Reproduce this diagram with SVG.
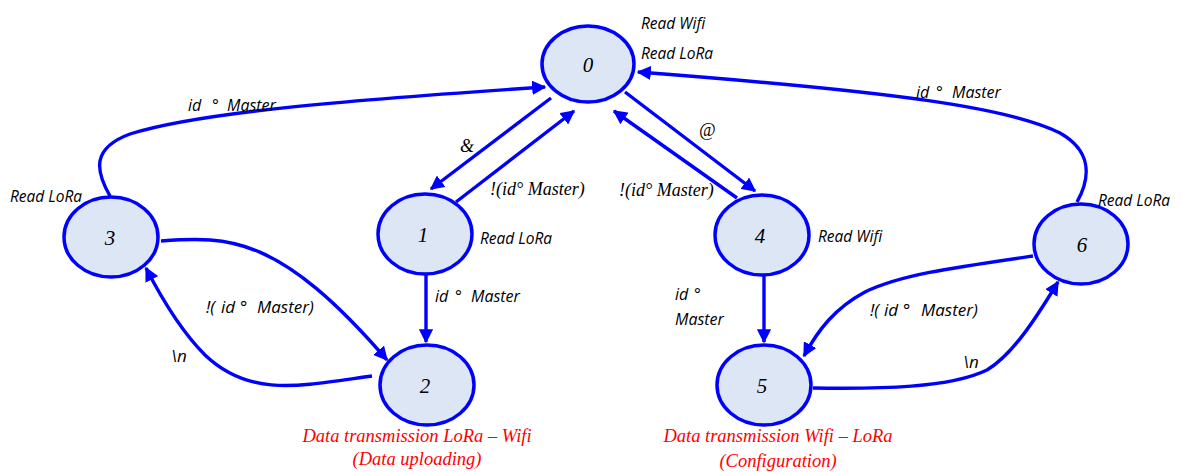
<svg xmlns="http://www.w3.org/2000/svg" width="1182" height="472" viewBox="0 0 1182 472">
<defs>
<marker id="ah" viewBox="0 0 10 10" refX="9" refY="5" markerWidth="4.2" markerHeight="4.2" markerUnits="strokeWidth" orient="auto">
<path d="M0,0 L10,5 L0,10 z" fill="#0000FF"/>
</marker>
<style>
.n{fill:#DCE6F5;stroke:#0000FF;stroke-width:3.5}
.e{fill:none;stroke:#0000FF;stroke-width:3.4;marker-end:url(#ah)}
.num{font-family:"Liberation Serif",serif;font-style:italic;font-size:21px;fill:#000;text-anchor:middle}
.s{font-family:"Open Sans","Liberation Sans",sans-serif;font-style:italic;font-size:15.5px;fill:#000}
.m{font-family:"Open Sans","Liberation Sans",sans-serif;font-style:italic;font-size:16px;fill:#000}
.b{font-family:"Open Sans","Liberation Sans",sans-serif;font-style:italic;font-size:17px;fill:#000}
.t{font-family:"Liberation Serif",serif;font-style:italic;font-size:18px;fill:#000}
.r{font-family:"Liberation Serif",serif;font-style:italic;font-size:18.5px;fill:#FF0000;text-anchor:middle}
</style>
</defs>
<rect width="1182" height="472" fill="#fff"/>
<g id="connectors">
<path class="e" d="M551,98 L431,189"/>
<path class="e" d="M456,202 L574,111"/>
<path class="e" d="M625,92 L755,191"/>
<path class="e" d="M737,198 L614,111"/>
<path class="e" d="M426,275 L426,342"/>
<path class="e" d="M764,276 L764,342"/>
<path class="e" d="M110,196 C95,170 92,148 130,134 C200,112 350,100 545,87"/>
<path class="e" d="M1077,202 C1092,175 1090,150 1060,133 C1010,108 900,92 638,72"/>
<path class="e" d="M161,241 C230,236 280,236 387,360"/>
<path class="e" d="M372,376 C300,386 250,398 205,355 C185,335 165,305 146,268"/>
<path class="e" d="M1033,256 C950,268 900,275 865,292 C835,308 818,330 804,356"/>
<path class="e" d="M813,388 C880,389 950,388 987,370 C1012,355 1035,320 1058,282"/>
</g>
<g id="node0"><ellipse class="n" cx="588" cy="64" rx="46" ry="38"/><text class="num" x="588" y="72">0</text></g>
<g id="node1"><ellipse class="n" cx="425" cy="234" rx="47" ry="40"/><text class="num" x="423" y="242">1</text></g>
<g id="node2"><ellipse class="n" cx="427" cy="385" rx="47" ry="40"/><text class="num" x="425" y="393">2</text></g>
<g id="node3"><ellipse class="n" cx="111" cy="237" rx="47" ry="40"/><text class="num" x="110" y="245">3</text></g>
<g id="node4"><ellipse class="n" cx="762" cy="235" rx="47" ry="40"/><text class="num" x="760" y="243">4</text></g>
<g id="node5"><ellipse class="n" cx="764" cy="385" rx="47" ry="40"/><text class="num" x="762" y="393">5</text></g>
<g id="node6"><ellipse class="n" cx="1081" cy="244" rx="47" ry="40"/><text class="num" x="1082" y="252">6</text></g>
<g id="labels">
<text class="s" x="641" y="29">Read Wifi</text>
<text class="s" x="641" y="59">Read LoRa</text>
<text class="s" x="10" y="202">Read LoRa</text>
<text class="s" x="480" y="244">Read LoRa</text>
<text class="s" x="818" y="242">Read Wifi</text>
<text class="s" x="1098" y="206">Read LoRa</text>
<text class="m" y="111"><tspan x="188">id</tspan><tspan x="212">°</tspan><tspan x="227">Master</tspan></text>
<text class="m" y="98"><tspan x="916">id</tspan><tspan x="936">°</tspan><tspan x="952">Master</tspan></text>
<text class="m" y="302"><tspan x="435">id</tspan><tspan x="455">°</tspan><tspan x="471">Master</tspan></text>
<text class="m" y="300"><tspan x="675">id</tspan><tspan x="694">°</tspan></text>
<text class="m" x="675" y="325">Master</text>
<text class="b" y="313"><tspan x="206">!(</tspan><tspan x="221">id</tspan><tspan x="240">°</tspan><tspan x="257">Master)</tspan></text>
<text class="b" y="316"><tspan x="870">!(</tspan><tspan x="884">id</tspan><tspan x="903">°</tspan><tspan x="921">Master)</tspan></text>
<text class="b" x="171" y="362">\n</text>
<text class="b" x="963" y="368">\n</text>
<text class="t" x="460" y="152">&amp;</text>
<text class="t" x="699" y="136">@</text>
<text class="t" x="490" y="195">!(id° Master)</text>
<text class="t" x="619" y="196">!(id° Master)</text>
<text class="r" x="417" y="442">Data transmission LoRa – Wifi</text>
<text class="r" x="417" y="465">(Data uploading)</text>
<text class="r" x="778" y="442">Data transmission Wifi – LoRa</text>
<text class="r" x="778" y="467">(Configuration)</text>
</g>
</svg>
